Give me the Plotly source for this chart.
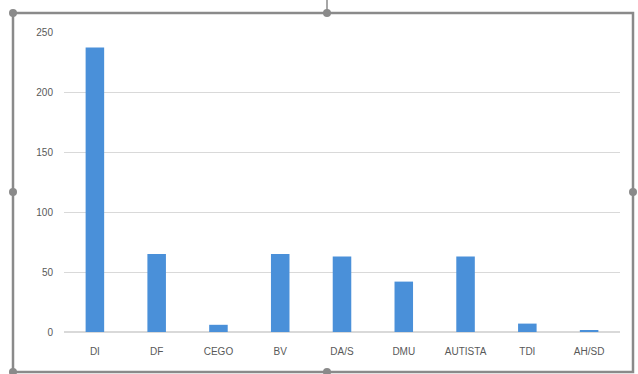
import plotly.graph_objects as go

categories = ["DI", "DF", "CEGO", "BV", "DA/S", "DMU", "AUTISTA", "TDI", "AH/SD"]
values = [237, 65, 6, 65, 63, 42, 63, 7, 1]
y_ticks = [0, 50, 100, 150, 200, 250]

fig = go.Figure()
fig.add_trace(go.Bar(x=categories, y=values, marker_color="#4a90d9", marker_line_width=0))

L, R, T, B = 64, 18, 32, 42
W, H = 638, 374
pw, ph = W - L - R, H - T - B

def px(x):
    return (x - L) / pw

def py(y):
    return (H - B - y) / ph

frame_col = "#8a8a8a"
shapes = [dict(type="rect", xref="paper", yref="paper",
               x0=px(13), x1=px(633), y0=py(372), y1=py(13),
               line=dict(color=frame_col, width=2.5), layer="above")]
for hx, hy in [(13, 13), (13, 192), (327, 13), (327, 372), (633, 192), (13, 372)]:
    r = 4
    shapes.append(dict(type="circle", xref="paper", yref="paper",
                       x0=px(hx - r), x1=px(hx + r), y0=py(hy + r), y1=py(hy - r),
                       fillcolor="#8a8a8a", line=dict(width=0), layer="above"))
shapes.append(dict(type="line", xref="paper", yref="paper",
                   x0=px(327), x1=px(327), y0=py(13), y1=py(0),
                   line=dict(color=frame_col, width=1.5)))

fig.update_layout(
    width=W, height=H,
    margin=dict(l=L, r=R, t=T, b=B),
    paper_bgcolor="white", plot_bgcolor="white",
    bargap=0.7,
    showlegend=False,
    font=dict(family="Liberation Sans, Arial, sans-serif", size=10, color="#595959"),
    xaxis=dict(showgrid=False, showline=False, ticks="", tickfont=dict(size=10),
               ticklabelstandoff=12),
    yaxis=dict(range=[0, 250], tickvals=y_ticks, showgrid=True, gridcolor="#d9d9d9",
               gridwidth=1, zeroline=True, zerolinecolor="#d9d9d9", ticks="",
               showline=False, tickfont=dict(size=10), ticklabelstandoff=10),
    shapes=shapes,
)

fig.write_html("out.html")
